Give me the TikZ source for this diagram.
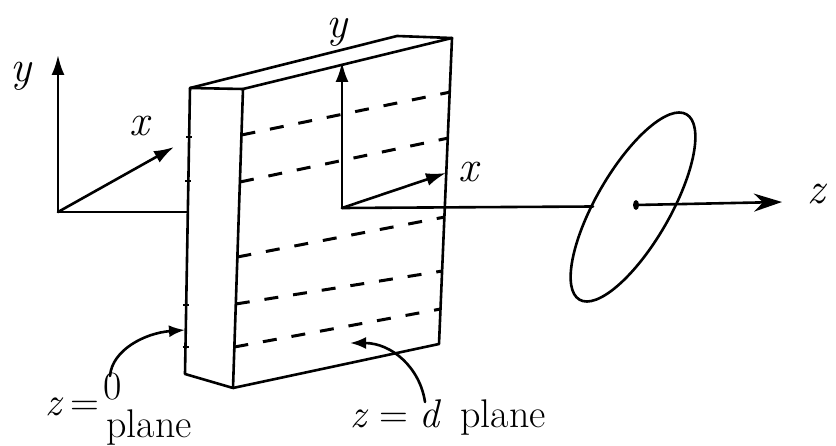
\documentclass[tikz,border=0pt]{standalone}
\usetikzlibrary{arrows.meta}
\newcommand{\vr}[1]{\textit{#1}}
\begin{document}
\begin{tikzpicture}[x=1pt,y=-1pt,
  edge/.style={line width=2.6pt, line cap=round, line join=round},
  axis/.style={edge, -{Latex[length=20pt,width=13pt]}},
  zaxis/.style={edge, -{Stealth[length=28pt,width=18pt,inset=9pt]}},
  hatch/.style={line width=3pt, dash pattern=on 14pt off 15pt},
  tick/.style={line width=2pt},
  lbl/.style={font=\fontsize{40}{44}\selectfont, inner sep=0pt},
  big/.style={font=\fontsize{44}{48}\selectfont, inner sep=0pt},
  pointer/.style={edge, -{Latex[length=16pt,width=12pt]}}
]
\useasboundingbox (0,0) rectangle (836,446);

% corners of the slab
\coordinate (A) at (190,88);
\coordinate (B) at (243,89);
\coordinate (C) at (233,388);
\coordinate (D) at (185,374);
\coordinate (E) at (397,36);
\coordinate (F) at (452,38);
\coordinate (G) at (439,344);

\draw[edge] (D) -- (A) -- (B) -- (C) -- cycle;
\draw[edge] (A) -- (E) -- (F) -- (G) -- (C);
\draw[edge] (B) -- (F);

% dashed lines across the large face
\coordinate (h1a) at (241.5,135); \coordinate (h1b) at (450.6,92);
\coordinate (h2a) at (240,182);   \coordinate (h2b) at (448.5,138);
\coordinate (h3a) at (237.4,257); \coordinate (h3b) at (444.8,217);
\coordinate (h4a) at (235.8,304); \coordinate (h4b) at (442.4,271);
\coordinate (h5a) at (234.4,347); \coordinate (h5b) at (440.6,309);
\foreach \i in {1,...,5} \draw[hatch] (h\i a) -- (h\i b);

% short marks on the narrow side
\foreach \yy/\xx in {137/189.1, 181/188.4, 305/186.2, 347/185.5}
  \draw[tick] (\xx-3,\yy) -- (\xx+3,\yy);

% axes in front of the slab
\coordinate (O1) at (58,212);
\coordinate (Y1) at (58,55);
\coordinate (X1) at (174,147);
\coordinate (L1) at (187.5,212);
\draw[axis] (O1) -- (Y1);
\draw[axis] (O1) -- (X1);
\draw[edge] (O1) -- (L1);

% axes on the far face
\coordinate (O2) at (342,208);
\coordinate (Y2) at (342,62);
\coordinate (X2) at (446,173);
\draw[axis] (O2) -- (Y2);
\draw[axis] (O2) -- (X2);

% aperture disc and the z axis
\coordinate (Cz) at (633,207);
\coordinate (Dot) at (636,205);
\coordinate (Zin) at (593,206.5);
\coordinate (Ztip) at (782,202);
\draw[edge] (O2) -- (Zin);
\draw[edge, rotate around={60:(Cz)}] (Cz) ellipse [x radius=107, y radius=37];
\fill (Dot) ellipse [x radius=3, y radius=5];
\draw[zaxis] (Dot) -- (Ztip);

% axis labels
\node[big] (ly1) at (22,76) {\vr{y}};
\node[big] (lx1) at (141,126) {\vr{x}};
\node[big, anchor=base] (ly2) at (338,38) {\vr{y}};
\node[big] (lx2) at (470,172) {\vr{x}};
\node[big] (lz) at (818,194) {\vr{z}};

% plane labels
\node[lbl, anchor=base] (z0) at (72,416) {\vr{z}\,=};
\node[lbl, anchor=base] (z0n) at (113,400) {0};
\node[lbl, anchor=base west] (z0p) at (106,438) {plane};
\node[lbl, anchor=base west] (zd) at (350,428) {\vr{z}\;=\;\vr{d}\, plane};

% pointers to the two planes
\coordinate (p1s) at (110,376);
\coordinate (p1e) at (185,330);
\coordinate (p2s) at (425,402);
\coordinate (p2e) at (350,343);
\draw[pointer] (p1s) .. controls (112,350) and (145,333) .. (p1e);
\draw[pointer] (p2s) .. controls (420,368) and (392,343) .. (p2e);
\end{tikzpicture}
\end{document}
